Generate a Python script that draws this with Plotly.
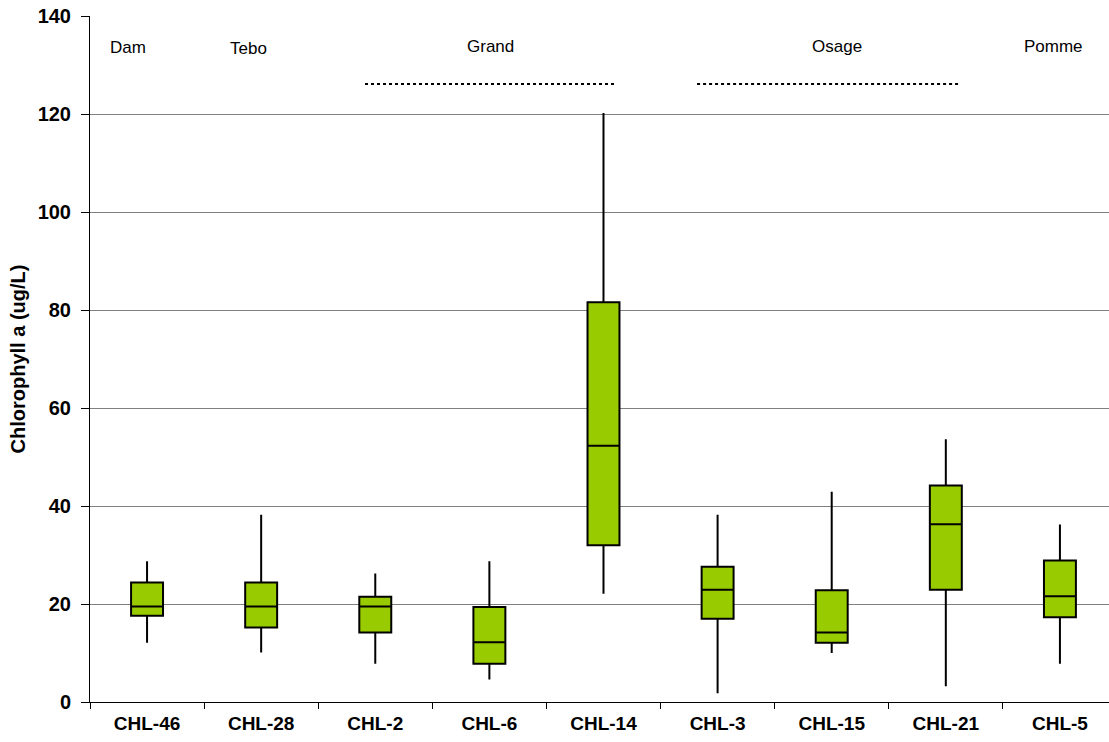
import plotly.graph_objects as go

# Station names along the x axis
stations = ["CHL-46", "CHL-28", "CHL-2", "CHL-6", "CHL-14", "CHL-3", "CHL-15", "CHL-21", "CHL-5"]

# Box-plot statistics per station (chlorophyll a, ug/L)
whisker_low = [12.1, 10.1, 7.8, 4.6, 22.1, 1.8, 10.0, 3.2, 7.8]
quartile1 = [17.6, 15.2, 14.2, 7.8, 32.0, 17.0, 12.1, 22.9, 17.3]
medians = [19.5, 19.5, 19.5, 12.2, 52.3, 22.9, 14.2, 36.3, 21.6]
quartile3 = [24.4, 24.4, 21.5, 19.4, 81.6, 27.6, 22.8, 44.2, 28.9]
whisker_high = [28.7, 38.2, 26.2, 28.7, 120.2, 38.2, 42.9, 53.6, 36.2]

# River group labels shown across the top of the chart
group_names = ["Dam", "Tebo", "Grand", "Osage", "Pomme"]

FONT = "Arial, Liberation Sans, sans-serif"

fig = go.Figure()

fig.add_trace(go.Box(
    x=stations,
    q1=quartile1,
    median=medians,
    q3=quartile3,
    lowerfence=whisker_low,
    upperfence=whisker_high,
    width=0.28,
    whiskerwidth=0,
    fillcolor="#99CC00",
    line=dict(color="#000000", width=2),
    boxpoints=False,
    hoverinfo="skip",
    showlegend=False,
))

# Group labels and dotted spans
label_pos = [(-0.17, 133.6), (0.89, 133.3), (3.01, 133.8), (6.05, 133.8), (7.94, 133.8)]
for name, (gx, gy) in zip(group_names, label_pos):
    fig.add_annotation(x=gx, y=gy, text=name, showarrow=False, xref="x", yref="y",
                       font=dict(family=FONT, size=17, color="#000000"))

for x0, x1 in [(1.91, 4.10), (4.82, 7.13)]:
    fig.add_shape(type="line", x0=x0, x1=x1, y0=126.1, y1=126.1, xref="x", yref="y",
                  line=dict(color="#000000", width=2, dash="dot"))

fig.update_layout(
    width=1109,
    height=742,
    margin=dict(l=90, r=0, t=16, b=40),
    paper_bgcolor="#FFFFFF",
    plot_bgcolor="#FFFFFF",
    font=dict(family=FONT, color="#000000"),
    xaxis=dict(
        type="category",
        range=[-0.5, 8.43],
        showline=True,
        linecolor="#000000",
        linewidth=1,
        ticks="outside",
        tickson="boundaries",
        ticklen=6,
        tickcolor="#000000",
        showgrid=False,
        ticklabelstandoff=4,
        tickfont=dict(family=FONT, size=19, color="#000000", weight="bold"),
    ),
    yaxis=dict(
        range=[0, 140],
        dtick=20,
        showline=True,
        linecolor="#000000",
        linewidth=1,
        ticks="outside",
        ticklen=8,
        tickcolor="#000000",
        showgrid=True,
        gridcolor="#808080",
        gridwidth=1,
        zeroline=False,
        ticklabelstandoff=6,
        tickfont=dict(family=FONT, size=20, color="#000000", weight="bold"),
        title=dict(text="Chlorophyll a (ug/L)", standoff=6,
                   font=dict(family=FONT, size=20, color="#000000", weight="bold")),
    ),
)

fig.write_html("out.html")
